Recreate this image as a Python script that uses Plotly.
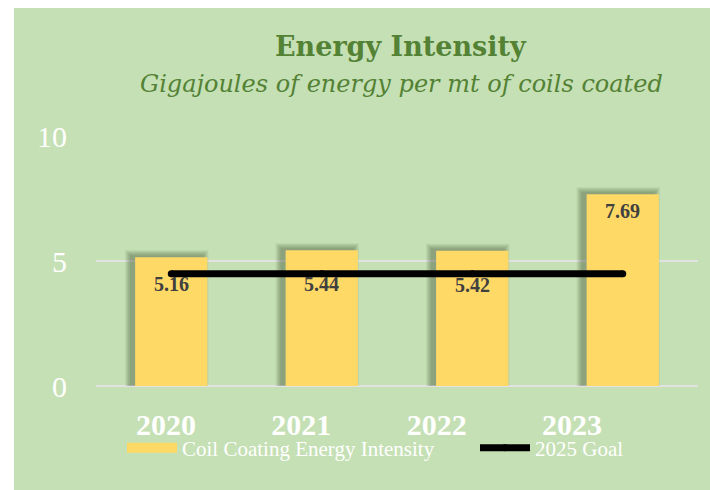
import plotly.graph_objects as go

# Chart data
years = ["2020", "2021", "2022", "2023"]
intensity = [5.16, 5.44, 5.42, 7.69]
goal_2025 = [4.5, 4.5, 4.5, 4.5]
y_ticks = [0, 5, 10]

# Styling
BG_GREEN = "#C5E0B4"
BAR_YELLOW = "#FFD966"
TITLE_GREEN = "#548235"
LABEL_GREY = "#404040"
GRID = "#E2E2E2"

W, H = 710, 490
PLOT_L, PLOT_R, PLOT_T, PLOT_B = 96, 698, 136, 386
BAR_WIDTH = 0.48
# how far each value label sits below the top of its bar (px)
label_drop_px = [27, 34, 34, 17]


def paper_x(px):
    return (px - PLOT_L) / (PLOT_R - PLOT_L)


def paper_y(py):
    return (PLOT_B - py) / (PLOT_B - PLOT_T)


X_UNIT_PX = (PLOT_R - PLOT_L) / len(years)
Y_UNIT_PX = (PLOT_B - PLOT_T) / 10.0

fig = go.Figure()

fig.add_trace(go.Bar(
    x=years, y=intensity, width=BAR_WIDTH,
    marker=dict(color=BAR_YELLOW, line=dict(width=0)),
    name="Coil Coating Energy Intensity", showlegend=False,
    hoverinfo="x+y",
))

# legend swatch for the bars (wide yellow band)
fig.add_trace(go.Scatter(
    x=[None], y=[None], mode="lines",
    line=dict(color=BAR_YELLOW, width=12),
    name="Coil Coating Energy Intensity",
    legendwidth=288,
))

fig.add_trace(go.Scatter(
    x=years, y=goal_2025, mode="lines+markers",
    line=dict(color="black", width=7),
    marker=dict(color="black", size=7),
    name="2025 Goal",
))

# carrier for the year labels on the secondary x axis
fig.add_trace(go.Scatter(
    x=years, y=goal_2025, xaxis="x2", yaxis="y2", mode="markers",
    marker=dict(opacity=0), showlegend=False, hoverinfo="skip",
))

shapes = [
    dict(type="rect", xref="paper", yref="paper", layer="below",
         x0=paper_x(14), x1=paper_x(W + 5), y0=paper_y(H + 5), y1=paper_y(8),
         fillcolor=BG_GREEN, line=dict(width=0)),
]

# soft drop shadow to the upper left of each bar
for i, v in enumerate(intensity):
    dx, dy = 4.0, 2.0
    for k in range(1, 7):
        shapes.append(dict(
            type="rect", xref="x", yref="y", layer="between",
            x0=i - BAR_WIDTH / 2 - (dx + k) / X_UNIT_PX,
            x1=i + BAR_WIDTH / 2 + (k - dx - 1) / X_UNIT_PX,
            y0=0 - (k - dy) / Y_UNIT_PX,
            y1=v + (dy + k - 1) / Y_UNIT_PX,
            fillcolor="rgba(40,55,30,0.07)", line=dict(width=0),
        ))

annotations = [
    dict(text="<b>Energy Intensity</b>", xref="paper", yref="paper",
         x=paper_x(401), y=paper_y(47), xanchor="center", yanchor="middle",
         showarrow=False,
         font=dict(family="DejaVu Serif", size=27, color=TITLE_GREEN)),
    dict(text="<i>Gigajoules of energy per mt of coils coated</i>",
         xref="paper", yref="paper",
         x=paper_x(401), y=paper_y(84), xanchor="center", yanchor="middle",
         showarrow=False,
         font=dict(family="DejaVu Serif", size=24, color=TITLE_GREEN)),
]

for i, (v, drop) in enumerate(zip(intensity, label_drop_px)):
    annotations.append(dict(
        text=f"<b>{v:.2f}</b>", x=i, y=v, xref="x", yref="y",
        yshift=-drop, yanchor="middle", showarrow=False,
        font=dict(family="Liberation Serif", size=20, color=LABEL_GREY),
    ))

label_left, label_right = 98.3, 639.7

fig.update_layout(
    width=W, height=H,
    margin=dict(l=PLOT_L, r=W - PLOT_R, t=PLOT_T, b=H - PLOT_B, pad=0),
    paper_bgcolor="white",
    plot_bgcolor="rgba(0,0,0,0)",
    barmode="overlay",
    shapes=shapes,
    annotations=annotations,
    xaxis=dict(
        type="category", categoryarray=years, range=[-0.5, 3.5],
        showticklabels=False, showgrid=False, zeroline=False, ticks="",
    ),
    xaxis2=dict(
        type="category", categoryarray=years, range=[-0.5, 3.5],
        domain=[paper_x(label_left), paper_x(label_right)],
        anchor="y2", side="bottom",
        showgrid=False, zeroline=False, ticks="",
        ticklabelstandoff=18,
        tickfont=dict(family="Liberation Serif", size=30, color="white"),
        tickprefix="<b>", ticksuffix="</b>",
    ),
    yaxis=dict(
        range=[0, 10.02], tickvals=y_ticks,
        showgrid=True, gridcolor=GRID, gridwidth=1.5,
        zeroline=True, zerolinecolor=GRID, zerolinewidth=1.5,
        ticks="", ticklabelstandoff=28,
        tickfont=dict(family="Liberation Serif", size=30, color="white"),
    ),
    yaxis2=dict(
        range=[0, 10.02], overlaying="y", anchor="x2",
        showgrid=False, zeroline=False, showticklabels=False, ticks="",
    ),
    legend=dict(
        orientation="h", x=paper_x(122), y=paper_y(448),
        xanchor="left", yanchor="middle",
        bgcolor="rgba(0,0,0,0)", itemwidth=50,
        font=dict(family="Liberation Serif", size=21, color="white"),
    ),
    hovermode="closest",
)

fig.write_html("out.html")
